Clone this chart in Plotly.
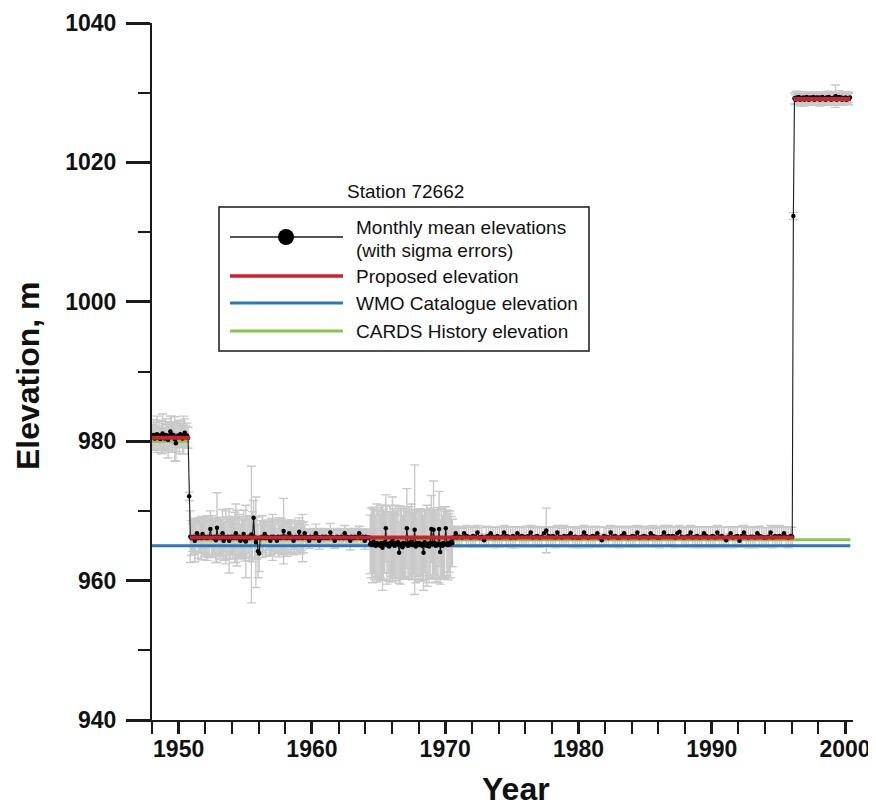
import plotly.graph_objects as go

# ---------------- data ----------------
station_title = "Station 72662"

# Monthly mean elevations (m), Jan 1948 - Dec 1970, one row per year
elev_1948_1970 = [
    [980.6, 980.9, 980.4, 980.7, 981.0, 980.5, 980.8, 980.3, 980.6, 981.1, 980.7, 980.4],  # 1948
    [980.9, 980.6, 980.2, 980.8, 981.4, 981.0, 980.6, 980.9, 980.3, 979.7, 980.5, 980.8],  # 1949
    [980.6, 981.0, 980.7, 980.4, 980.9, 981.2, 980.6, 980.8, 980.5, 972.1, 966.3, 966.1],  # 1950
    [966.2, 966.3, 965.7, 966.2, 966.8, 966.1, 966.3, 966.2, 966.1, 966.7, 966.2, 966.3],  # 1951
    [966.2, 966.1, 966.3, 966.2, 967.4, 966.3, 966.2, 966.1, 966.3, 965.8, 967.6, 966.2],  # 1952
    [966.3, 966.1, 966.2, 966.8, 965.7, 966.3, 966.2, 966.1, 966.3, 965.7, 966.2, 966.3],  # 1953
    [966.1, 966.3, 966.2, 966.8, 966.1, 966.2, 966.3, 965.7, 966.2, 966.1, 966.7, 965.8],  # 1954
    [965.6, 966.2, 966.3, 966.1, 966.2, 966.6, 966.3, 969.0, 966.2, 965.5, 966.1, 964.2],  # 1955
    [963.9, 966.2, 966.1, 966.3, 966.2, 966.7, 966.1, 966.3, 966.2, 966.1, 965.7, 966.3],  # 1956
    [966.2, 966.3, 966.1, 966.2, 965.7, 966.3, 966.2, 966.1, 966.3, 966.2, 967.1, 966.2],  # 1957
    [966.3, 966.1, 966.2, 966.8, 966.2, 966.3, 966.1, 965.7, 966.2, 966.3, 966.2, 966.1],  # 1958
    [967.0, 966.2, 966.3, 966.1, 966.2, 966.8, 966.3, 966.1, 966.2, 965.7, 966.3, 966.2],  # 1959
    [966.2, 966.3, 966.1, 966.8, 966.2, 966.3, 965.7, 966.2, 966.1, 966.3, 966.2, 966.1],  # 1960
    [966.3, 966.2, 966.1, 966.2, 966.9, 966.3, 966.2, 966.1, 965.7, 966.2, 966.3, 966.2],  # 1961
    [966.1, 966.2, 966.3, 966.2, 966.1, 966.8, 966.2, 966.3, 966.1, 966.2, 965.7, 966.3],  # 1962
    [966.2, 966.1, 966.3, 966.2, 966.2, 966.3, 966.8, 966.1, 966.2, 966.3, 966.2, 965.7],  # 1963
    [966.3, 966.2, 966.1, 966.2, 965.2, 965.4, 965.1, 965.6, 965.3, 965.0, 965.4, 965.2],  # 1964
    [965.3, 965.0, 965.4, 964.7, 965.2, 965.5, 967.5, 965.1, 965.3, 964.9, 965.4, 965.2],  # 1965
    [965.9, 965.3, 965.0, 965.4, 965.2, 965.5, 964.0, 965.1, 965.3, 964.8, 965.4, 965.2],  # 1966
    [965.3, 967.5, 965.0, 965.4, 965.2, 965.6, 965.1, 965.3, 967.3, 964.9, 965.4, 965.2],  # 1967
    [965.4, 965.1, 965.3, 965.0, 964.0, 965.5, 965.2, 965.0, 965.3, 964.9, 965.4, 967.4],  # 1968
    [965.2, 967.3, 965.4, 965.0, 965.3, 965.1, 967.4, 964.1, 965.3, 965.0, 965.4, 965.2],  # 1969
    [967.5, 965.3, 965.1, 965.4, 965.2, 965.6, 965.4, 966.2, 966.3, 966.8, 966.2, 966.3],  # 1970
]
sigma_1948_1970 = [
    [1.8, 2.2, 1.5, 2.0, 2.6, 1.7, 2.1, 1.6, 2.4, 2.8, 1.9, 1.5],
    [2.3, 1.8, 2.6, 2.0, 2.2, 2.6, 2.2, 1.8, 3.2, 2.5, 2.0, 1.7],
    [2.4, 1.9, 1.6, 2.2, 2.7, 2.0, 1.6, 1.8, 1.5, 0.6, 3.7, 2.5],
    [2.0, 2.6, 3.0, 2.2, 1.8, 2.9, 2.4, 2.0, 3.1, 2.2, 2.2, 2.8],
    [2.5, 3.2, 3.0, 2.4, 2.6, 3.0, 2.7, 2.4, 2.6, 3.2, 5.0, 2.4],
    [2.4, 3.0, 2.6, 3.4, 2.8, 2.2, 3.8, 3.0, 2.5, 4.6, 3.0, 2.6],
    [3.0, 2.6, 3.6, 4.2, 4.0, 2.8, 3.2, 2.4, 3.0, 2.6, 3.4, 3.0],
    [5.2, 3.0, 2.4, 3.2, 2.8, 9.8, 3.6, 2.5, 3.0, 6.5, 3.0, 3.8],
    [2.6, 2.4, 2.0, 3.0, 2.2, 1.8, 2.6, 2.0, 1.8, 2.4, 2.2, 2.6],
    [3.3, 2.4, 2.0, 2.2, 1.8, 2.4, 2.8, 2.0, 2.6, 2.2, 4.7, 2.4],
    [2.2, 2.6, 2.0, 1.8, 2.2, 2.4, 1.6, 2.0, 2.4, 1.8, 2.2, 2.0],
    [2.0, 2.4, 2.0, 3.4, 2.2, 1.2, 1.1, 1.0, 1.2, 1.1, 0.9, 1.0],
    [1.1, 1.2, 1.0, 1.3, 1.1, 1.0, 1.2, 1.1, 0.9, 1.2, 1.0, 1.1],
    [1.0, 1.2, 1.1, 1.0, 1.3, 1.1, 1.0, 1.2, 1.1, 0.9, 1.2, 1.0],
    [1.2, 1.0, 1.1, 1.2, 1.0, 1.1, 0.9, 1.2, 1.0, 1.1, 1.3, 1.0],
    [1.1, 1.0, 1.2, 1.1, 0.9, 1.2, 1.0, 1.1, 1.2, 1.0, 1.1, 1.2],
    [1.0, 1.2, 1.1, 1.0, 4.2, 5.0, 5.4, 4.6, 5.2, 4.4, 5.6, 4.8],
    [5.2, 4.6, 5.4, 6.1, 5.0, 4.4, 4.8, 5.6, 4.2, 5.0, 5.4, 4.6],
    [6.1, 5.0, 4.6, 5.4, 4.8, 5.2, 4.4, 5.6, 5.0, 4.6, 5.2, 4.8],
    [5.0, 5.7, 4.8, 5.2, 4.6, 5.4, 5.0, 4.4, 9.3, 5.2, 4.8, 5.0],
    [4.8, 5.2, 4.6, 5.0, 5.4, 4.4, 5.0, 5.8, 4.6, 5.2, 5.0, 4.8],
    [5.0, 7.0, 4.6, 5.2, 4.8, 5.4, 5.4, 4.6, 5.0, 4.4, 5.2, 4.8],
    [3.1, 4.6, 5.0, 4.2, 4.8, 3.6, 3.4, 1.2, 1.3, 1.0, 1.4, 1.3],
]

# Bimonthly mean elevations (m), 1971 - 1995, one row per year
elev_1971_1995 = [
    [966.3, 966.2, 966.8, 966.4, 966.3, 966.2],  # 1971
    [966.4, 966.3, 966.9, 966.2, 966.3, 965.8],
    [966.3, 966.4, 966.8, 966.3, 966.2, 966.4],
    [966.2, 966.3, 966.9, 966.4, 966.3, 966.2],
    [966.4, 966.2, 966.8, 966.3, 966.4, 966.3],  # 1975
    [966.3, 966.4, 966.9, 966.2, 966.3, 966.4],
    [966.2, 966.3, 966.8, 967.2, 966.4, 966.3],
    [966.4, 966.2, 966.9, 966.3, 966.2, 966.4],
    [966.3, 966.4, 966.8, 966.2, 966.3, 966.2],
    [966.2, 966.3, 966.9, 966.4, 966.2, 966.3],  # 1980
    [966.4, 966.3, 966.8, 966.2, 965.8, 966.4],
    [966.3, 966.2, 966.9, 966.3, 966.4, 966.2],
    [966.2, 966.4, 966.8, 966.3, 966.2, 966.3],
    [966.4, 966.3, 966.9, 966.2, 966.3, 966.4],
    [966.3, 966.2, 966.8, 966.4, 966.3, 966.2],  # 1985
    [966.2, 966.3, 966.9, 966.3, 966.4, 966.3],
    [966.4, 966.2, 966.8, 967.0, 966.3, 966.2],
    [966.3, 966.4, 966.9, 966.2, 966.3, 966.4],
    [966.2, 966.3, 966.8, 966.4, 966.2, 966.3],
    [966.4, 966.2, 966.9, 966.3, 966.4, 966.2],  # 1990
    [965.8, 966.3, 966.8, 966.2, 966.3, 966.4],
    [965.7, 966.4, 966.9, 966.3, 966.2, 966.3],
    [966.3, 966.2, 966.8, 966.4, 966.3, 966.2],
    [966.2, 966.3, 966.9, 966.2, 966.4, 966.3],
    [966.4, 966.3, 966.8, 966.3, 966.2, 966.4],  # 1995
]
sigma_1971_1995 = [
    [1.4, 1.3, 0.9, 1.5, 1.3, 1.4],
    [1.3, 1.5, 1.0, 1.4, 1.3, 0.9],
    [1.5, 1.3, 0.9, 1.4, 1.5, 1.3],
    [1.4, 1.3, 1.0, 1.3, 1.4, 1.5],
    [1.3, 1.5, 0.9, 1.4, 1.3, 1.4],
    [1.5, 1.3, 1.0, 1.4, 1.5, 1.3],
    [1.4, 1.3, 0.9, 3.2, 1.3, 1.4],
    [1.3, 1.5, 1.0, 1.4, 1.3, 1.5],
    [1.4, 1.3, 0.9, 1.5, 1.4, 1.3],
    [1.5, 1.4, 1.0, 1.3, 1.5, 1.4],
    [1.3, 1.5, 0.9, 1.4, 0.9, 1.3],
    [1.4, 1.3, 1.0, 1.5, 1.3, 1.4],
    [1.5, 1.4, 0.9, 1.3, 1.4, 1.5],
    [1.3, 1.5, 1.0, 1.4, 1.3, 1.4],
    [1.4, 1.3, 0.9, 1.5, 1.4, 1.3],
    [1.5, 1.4, 1.0, 1.3, 1.5, 1.4],
    [1.3, 1.5, 0.9, 0.9, 1.3, 1.4],
    [1.4, 1.3, 1.0, 1.5, 1.4, 1.3],
    [1.5, 1.4, 0.9, 1.3, 1.5, 1.4],
    [1.3, 1.5, 1.0, 1.4, 1.3, 1.5],
    [0.9, 1.3, 0.9, 1.5, 1.4, 1.3],
    [0.9, 1.4, 1.0, 1.3, 1.5, 1.4],
    [1.3, 1.5, 0.9, 1.4, 1.3, 1.4],
    [1.4, 1.3, 1.0, 1.5, 1.4, 1.3],
    [1.5, 1.4, 0.9, 1.3, 1.5, 1.3],
]

# Monthly mean elevations (m), Jan 1996 - May 2000
elev_1996_2000 = [
    [966.3, 1012.3, 1029.2, 1029.0, 1029.3, 1029.1, 1029.4, 1029.0, 1029.2, 1029.1, 1029.3, 1029.0],  # 1996
    [1029.2, 1029.4, 1029.1, 1029.0, 1029.3, 1029.2, 1029.1, 1029.4, 1029.0, 1029.2, 1029.3, 1029.1],
    [1029.3, 1029.0, 1029.2, 1029.4, 1029.1, 1029.2, 1029.0, 1029.3, 1029.1, 1029.4, 1029.2, 1029.0],
    [1029.2, 1029.1, 1029.3, 1029.5, 1029.0, 1029.2, 1029.4, 1029.1, 1029.3, 1029.0, 1029.2, 1029.1],
    [1029.3, 1029.0, 1029.2, 1029.1, 1029.3],  # 2000
]
sigma_1996_2000 = [
    [1.3, 0.5, 0.8, 0.7, 0.9, 0.8, 0.7, 0.9, 0.8, 0.7, 0.8, 0.9],
    [0.8, 0.7, 0.9, 0.8, 0.7, 0.8, 0.9, 0.7, 0.8, 0.9, 0.7, 0.8],
    [0.7, 0.9, 0.8, 0.7, 0.8, 0.9, 0.8, 0.7, 0.9, 0.8, 0.7, 0.8],
    [0.9, 0.8, 0.7, 1.6, 0.8, 0.7, 0.9, 0.8, 0.7, 0.8, 0.9, 0.7],
    [0.8, 0.7, 0.9, 0.8, 0.7],
]

# Reference elevations (m): periods (start, end year) and value
proposed_periods = [(1948.0, 1950.85), (1950.85, 1996.15), (1996.12, 2000.4)]
proposed_elev = [980.5, 966.2, 1029.1]
wmo_periods = [(1948.0, 2000.4)]
wmo_elev = [965.0]
cards_periods = [(1948.0, 1950.8), (1950.85, 2000.4)]
cards_elev = [980.0, 965.85]

x_tick_vals = [1950, 1960, 1970, 1980, 1990, 2000]
y_tick_vals = [940, 960, 980, 1000, 1020, 1040]

legend_labels = ["Monthly mean elevations", "(with sigma errors)", "Proposed elevation",
                 "WMO Catalogue elevation", "CARDS History elevation"]

# ---------------- build series ----------------
xs, ys, es = [], [], []
for r, (row, srow) in enumerate(zip(elev_1948_1970, sigma_1948_1970)):
    for m, (v, s) in enumerate(zip(row, srow)):
        xs.append(1948 + r + (m + 0.5) / 12); ys.append(v); es.append(s)
for r, (row, srow) in enumerate(zip(elev_1971_1995, sigma_1971_1995)):
    for m, (v, s) in enumerate(zip(row, srow)):
        xs.append(1971 + r + (2 * m + 1) / 12); ys.append(v); es.append(s)
for r, (row, srow) in enumerate(zip(elev_1996_2000, sigma_1996_2000)):
    for m, (v, s) in enumerate(zip(row, srow)):
        xs.append(1996 + r + (m + 0.5) / 12); ys.append(v); es.append(s)


def steps(periods, values):
    px, py = [], []
    for (a, b), v in zip(periods, values):
        px += [a, b, None]
        py += [v, v, None]
    return px, py


RED = "#d0202e"
BLUE = "#2878c0"
GREEN = "#86c552"
GRAY = "#c9c9c9"
INK = "#1a1a1a"
FONT = "Liberation Sans, Arial, Helvetica, sans-serif"

fig = go.Figure()

fig.add_trace(go.Scatter(
    x=xs, y=ys, mode="markers",
    marker=dict(size=1, color="rgba(0,0,0,0)"),
    error_y=dict(type="data", array=es, color=GRAY, thickness=1.4, width=4.5),
    hoverinfo="skip", showlegend=False))

gx, gy = steps(cards_periods, cards_elev)
fig.add_trace(go.Scatter(x=gx, y=gy, mode="lines", line=dict(color=GREEN, width=3),
                         showlegend=False))
bx, by = steps(wmo_periods, wmo_elev)
fig.add_trace(go.Scatter(x=bx, y=by, mode="lines", line=dict(color=BLUE, width=3),
                         showlegend=False))

fig.add_trace(go.Scatter(
    x=xs, y=ys, mode="lines+markers",
    line=dict(color=INK, width=1.1),
    marker=dict(size=4.5, color="black"),
    showlegend=False))

rx, ry = steps(proposed_periods, proposed_elev)
fig.add_trace(go.Scatter(x=rx, y=ry, mode="lines", line=dict(color=RED, width=4),
                         showlegend=False))

# ---------------- layout (page has an 8px body margin) ----------------
OFF = 8
W, H = 868, 798
L, R, T, B = 144, 23, 15, 86
pw, ph = W - L - R, H - T - B


def px_x(p):  # page pixel -> paper x
    return (p - OFF - L) / pw


def px_y(p):  # page pixel -> paper y
    return (H - B - (p - OFF)) / ph


shapes = [
    dict(type="rect", xref="paper", yref="paper", x0=px_x(219), x1=px_x(589),
         y0=px_y(351), y1=px_y(207), line=dict(color=INK, width=1.5), fillcolor="white",
         layer="above"),
    dict(type="line", xref="paper", yref="paper", x0=px_x(230), x1=px_x(343),
         y0=px_y(237), y1=px_y(237), line=dict(color=INK, width=1.6)),
    dict(type="circle", xref="paper", yref="paper", xsizemode="pixel", ysizemode="pixel",
         xanchor=px_x(286), yanchor=px_y(237), x0=-8, x1=8, y0=-8, y1=8,
         fillcolor="black", line=dict(color="black", width=0)),
    dict(type="line", xref="paper", yref="paper", x0=px_x(230), x1=px_x(343),
         y0=px_y(276), y1=px_y(276), line=dict(color=RED, width=3.5)),
    dict(type="line", xref="paper", yref="paper", x0=px_x(230), x1=px_x(343),
         y0=px_y(303), y1=px_y(303), line=dict(color=BLUE, width=3)),
    dict(type="line", xref="paper", yref="paper", x0=px_x(230), x1=px_x(343),
         y0=px_y(331), y1=px_y(331), line=dict(color=GREEN, width=3)),
]

annotations = []
for lab, yy in zip(legend_labels, [228, 250, 276, 303, 331]):
    annotations.append(dict(text=lab, xref="paper", yref="paper", x=px_x(354), y=px_y(yy),
                            xanchor="left", yanchor="middle", showarrow=False,
                            font=dict(family=FONT, size=19, color="#111")))
annotations.append(dict(text=station_title, xref="paper", yref="paper", x=px_x(405),
                        y=px_y(191), xanchor="center", yanchor="middle", showarrow=False,
                        font=dict(family=FONT, size=19, color="#111")))
annotations.append(dict(text="Year", xref="paper", yref="paper", x=px_x(516), y=px_y(789),
                        xanchor="center", yanchor="middle", showarrow=False,
                        font=dict(family=FONT, size=32, color="#111", weight="bold")))
annotations.append(dict(text="Elevation, m", xref="paper", yref="paper", x=px_x(28),
                        y=px_y(376), xanchor="center", yanchor="middle", showarrow=False,
                        textangle=-90,
                        font=dict(family=FONT, size=32, color="#111", weight="bold")))

tickfont = dict(family=FONT, size=23, color="#111", weight="bold")

fig.update_layout(
    width=W, height=H,
    margin=dict(l=L, r=R, t=T, b=B),
    paper_bgcolor="white", plot_bgcolor="white",
    shapes=shapes, annotations=annotations,
    showlegend=False,
    xaxis=dict(range=[1948, 2000.6], showline=True, linecolor=INK, linewidth=2,
               automargin=False,
               ticks="outside", tickvals=x_tick_vals, ticklen=12, tickwidth=3,
               tickcolor=INK, tickfont=tickfont, showgrid=False, zeroline=False,
               ticklabelstandoff=-5,
               minor=dict(dtick=2, tick0=1948, ticks="outside", ticklen=12, tickwidth=1.5,
                          tickcolor=INK, showgrid=False)),
    yaxis=dict(range=[940, 1040], showline=True, linecolor=INK, linewidth=2,
               automargin=False,
               ticks="outside", tickvals=y_tick_vals, ticklen=24, tickwidth=2.5,
               tickcolor=INK, tickfont=tickfont, showgrid=False, zeroline=False,
               ticklabelstandoff=5,
               minor=dict(dtick=10, tick0=940, ticks="outside", ticklen=12, tickwidth=1.5,
                          tickcolor=INK, showgrid=False)),
)

fig.write_html("out.html")
